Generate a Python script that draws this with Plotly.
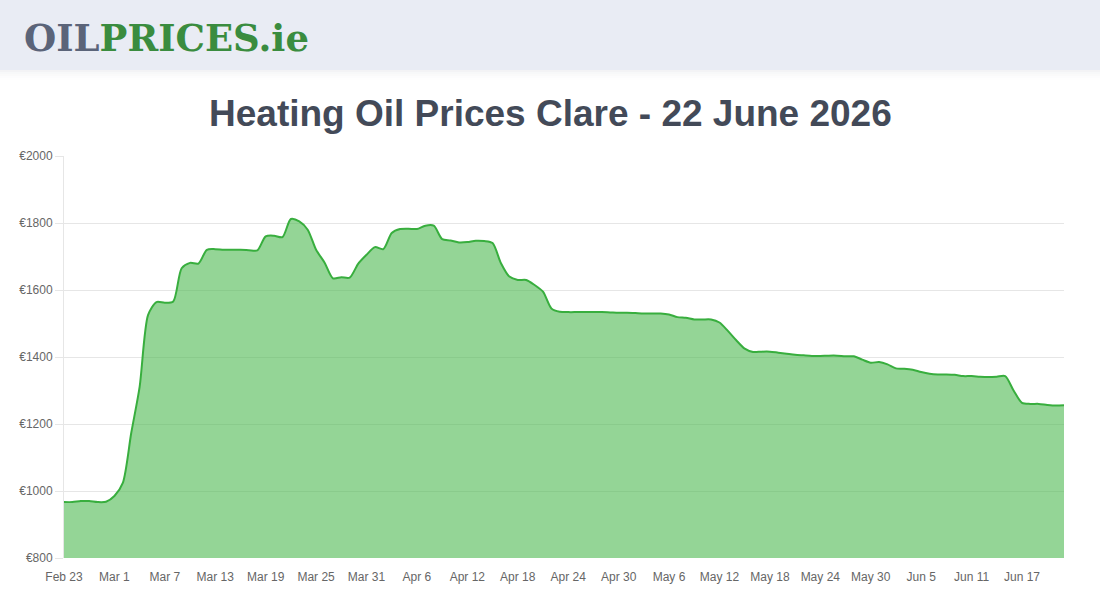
import pandas as pd
import plotly.graph_objects as go

start_date = "2026-02-23"
end_date = "2026-06-22"
dates = pd.date_range(start_date, end_date, freq="D")

prices = [
    967, 967, 970, 970, 967, 968, 985, 1024, 1173, 1311,
    1525, 1564, 1562, 1566, 1665, 1681, 1679, 1720, 1722, 1720,
    1720, 1720, 1719, 1718, 1760, 1762, 1758, 1812, 1805, 1780,
    1720, 1682, 1635, 1638, 1637, 1678, 1705, 1728, 1722, 1770,
    1782, 1783, 1782, 1792, 1792, 1752, 1748, 1742, 1743, 1747,
    1746, 1740, 1680, 1640, 1630, 1630, 1615, 1595, 1545, 1535,
    1534, 1534, 1534, 1534, 1534, 1533, 1532, 1532, 1531, 1530,
    1530, 1530, 1527, 1519, 1517, 1512, 1512, 1512, 1503, 1478,
    1450, 1425, 1415, 1416, 1416, 1413, 1410, 1407, 1405, 1403,
    1403, 1404, 1404, 1402, 1402, 1392, 1383, 1385, 1378, 1366,
    1365, 1362, 1355, 1350, 1348, 1348, 1347, 1343, 1343, 1341,
    1340, 1341, 1343, 1300, 1263, 1260, 1260, 1257, 1255, 1256,
]

title_text = "Heating Oil Prices Clare - 22 June 2026"

fig = go.Figure()
fig.add_trace(go.Scatter(
    x=dates, y=prices, mode="lines",
    line=dict(color="#38ae3e", width=2, shape="spline", smoothing=0.75),
    fill="tozeroy", fillcolor="rgba(76,185,80,0.6)",
    hoverinfo="x+y",
))

fig.update_layout(
    width=1100, height=600,
    margin=dict(l=64, r=36, t=156, b=42),
    paper_bgcolor="white", plot_bgcolor="white",
    showlegend=False,
    font=dict(family="Liberation Sans, Arial, sans-serif", size=12, color="#666666"),
    xaxis=dict(
        range=[dates[0], dates[-1]],
        tick0=start_date, dtick=6 * 86400000,
        tickformat="%b %-d",
        showgrid=False, zeroline=False, showline=False,
        ticks="", ticklabelstandoff=10,
        tickfont=dict(size=12, color="#666666"),
    ),
    yaxis=dict(
        range=[800, 2000], dtick=200, tickprefix="€",
        showgrid=True, gridcolor="#e6e6e6", gridwidth=1,
        zeroline=False, showline=True, linecolor="#e6e6e6", linewidth=1,
        ticks="outside", ticklen=8, tickcolor="#e6e6e6",
        tickfont=dict(size=12, color="#666666"),
    ),
)

def py(ypx):
    return (600 - 42 - ypx) / 402

def px(xpx):
    return (xpx - 64) / 1000

# header band with soft shadow
fig.add_shape(type="rect", xref="paper", yref="paper", x0=-0.1, x1=1.1,
              y0=py(70), y1=py(-5),
              fillcolor="#e9ecf4", line=dict(width=0), layer="below")
for k, op in enumerate([0.07, 0.045, 0.03, 0.015, 0.007]):
    fig.add_shape(type="rect", xref="paper", yref="paper", x0=-0.1, x1=1.1,
                  y0=py(70 + 2 * (k + 1)), y1=py(70 + 2 * k),
                  fillcolor=f"rgba(80,90,110,{op})", line=dict(width=0), layer="below")

fig.add_annotation(
    xref="paper", yref="paper", x=px(22), y=py(38), xanchor="left", yanchor="middle",
    text="<span style='color:#5b6479'>OIL</span><span style='color:#3a8c3f'>PRICES.ie</span>",
    showarrow=False,
    font=dict(family="DejaVu Serif", size=37, weight="bold"),
)
fig.add_annotation(
    xref="paper", yref="paper", x=px(550), y=py(114), xanchor="center", yanchor="middle",
    text=title_text, showarrow=False,
    font=dict(family="Liberation Sans, Arial, sans-serif", size=37,
              color="#434a58", weight="bold"),
)

fig.write_html("out.html")
